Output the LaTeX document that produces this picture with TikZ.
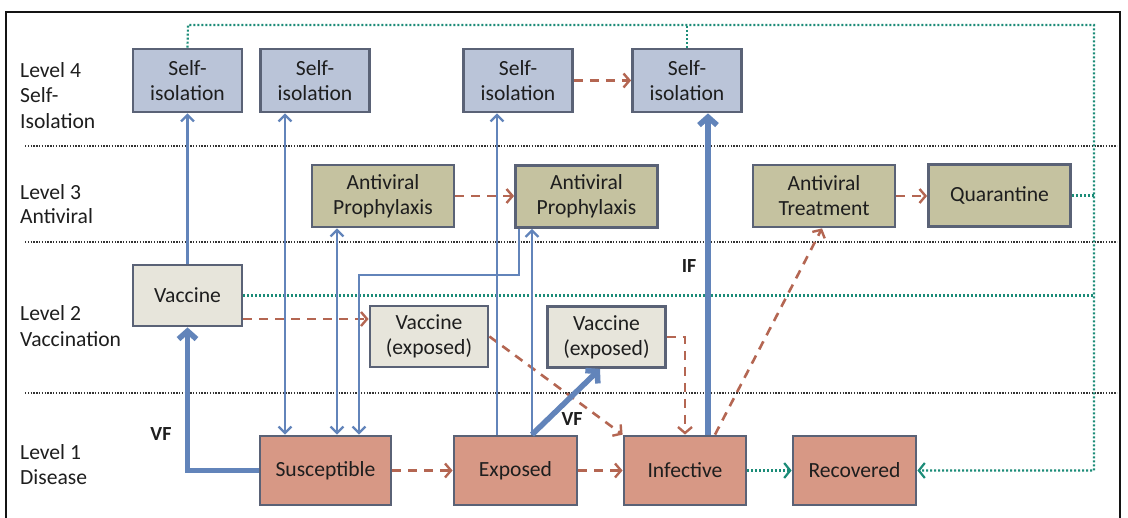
\documentclass[tikz,border=0pt]{standalone}
\usepackage{fontspec}
\setmainfont{Carlito}
\usetikzlibrary{arrows.meta}

\definecolor{frameC}{RGB}{20,20,20}
\definecolor{edgeC}{RGB}{90,98,118}
\definecolor{txtC}{RGB}{30,30,30}
\definecolor{isoF}{RGB}{186,196,216}
\definecolor{avF}{RGB}{197,194,160}
\definecolor{vacF}{RGB}{231,229,219}
\definecolor{disF}{RGB}{215,152,133}
\definecolor{flowB}{RGB}{98,132,186}
\definecolor{flowR}{RGB}{180,102,82}
\definecolor{flowT}{RGB}{28,140,120}

\tikzset{
  box/.style={draw=edgeC, line width=2.8pt, align=center, inner sep=0pt,
    text=txtC, font=\fontsize{21.6}{25}\selectfont},
  isobox/.style={box, fill=isoF, minimum width=109pt, minimum height=63pt},
  avbox/.style={box, fill=avF, minimum width=142pt, minimum height=62pt},
  vacbox/.style={box, fill=vacF, minimum width=109pt, minimum height=61pt},
  vexbox/.style={box, fill=vacF, minimum width=118pt, minimum height=61pt},
  disbox/.style={box, fill=disF, minimum height=69pt},
  lvl/.style={anchor=base west, inner sep=0pt, text=txtC, font=\fontsize{21.6}{25}\selectfont},
  flab/.style={inner sep=0pt, text=txtC, font=\fontsize{20}{24}\selectfont\bfseries},
  thinB/.style={draw=flowB, line width=2.2pt},
  thinTip/.style={thinB, -{Straight Barb[length=6.5pt,width=13pt,line width=2.2pt]}},
  thinTips/.style={thinB, {Straight Barb[length=6.5pt,width=13pt,line width=2.2pt]}-{Straight Barb[length=6.5pt,width=13pt,line width=2.2pt]}},
  thickB/.style={draw=flowB, line width=5.5pt, -{Straight Barb[length=8pt,width=18pt,line width=5.5pt]}},
  dashR/.style={draw=flowR, line width=2.6pt, dash pattern=on 9pt off 7pt,
    -{Straight Barb[length=6pt,width=14pt,line width=2.4pt]}},
  dotT/.style={draw=flowT, line width=2.2pt, dash pattern=on 2pt off 2pt},
  dotTip/.style={dotT, -{Straight Barb[length=6pt,width=15pt,line width=2.2pt]}},
  sepline/.style={draw=black!80, line width=1.3pt, dash pattern=on 1.4pt off 1.4pt},
}

\begin{document}
\begin{tikzpicture}[x=1pt,y=-1pt]
\useasboundingbox (0,0) rectangle (1128,518);
\fill[white] (0,0) rectangle (1128,518);

% outer frame
\draw[frameC, line width=2.2pt] (6,520) -- (6,12) -- (1120,12) -- (1120,520);

% level separators
\draw[sepline] (25,146) -- (1117,146);
\draw[sepline] (25,242) -- (1117,242);
\draw[sepline] (25,393) -- (1117,393);

% level labels
\node[lvl] (l4a) at (20,78) {Level 4};
\node[lvl] (l4b) at (20,103) {Self-};
\node[lvl] (l4c) at (20,129) {Isolation};
\node[lvl] (l3a) at (20,200) {Level 3};
\node[lvl] (l3b) at (20,224) {Antiviral};
\node[lvl] (l2a) at (20,321) {Level 2};
\node[lvl] (l2b) at (20,347) {Vaccination};
\node[lvl] (l1a) at (20,460) {Level 1};
\node[lvl] (l1b) at (20,485) {Disease};

% level 4: self-isolation
\node[isobox] (si1) at (187.5,80.5) {Self-\\isolation};
\node[isobox] (si2) at (315,80.5) {Self-\\isolation};
\node[isobox] (si3) at (518,80.5) {Self-\\isolation};
\node[isobox] (si4) at (687,80.5) {Self-\\isolation};

% level 3: antiviral
\node[avbox] (ap1) at (383,196) {Antiviral\\Prophylaxis};
\node[avbox] (ap2) at (586.5,196.5) {Antiviral\\Prophylaxis};
\node[avbox] (at) at (824,196) {Antiviral\\Treatment};
\node[avbox] (qu) at (999.5,195.5) {Quarantine};

% level 2: vaccination
\node[vacbox] (vac) at (187.5,295.5) {Vaccine};
\node[vexbox] (ve1) at (429,336.5) {Vaccine\\(exposed)};
\node[vexbox] (ve2) at (606.5,337) {Vaccine\\(exposed)};

% level 1: disease
\node[disbox, minimum width=131pt] (sus) at (325.5,470.5) {Susceptible};
\node[disbox, minimum width=123pt] (exp) at (515.5,470.5) {Exposed};
\node[disbox, minimum width=122pt] (inf) at (685,470.5) {Infective};
\node[disbox, minimum width=123pt] (rec) at (854.5,470.5) {Recovered};

% recovery / release paths (dotted)
\coordinate (tl) at (188,25);
\coordinate (tr) at (1094,25);
\coordinate (br) at (1094,470.5);
\draw[dotT] (vac.east) -- (vac.east -| tr);
\draw[dotT] (qu.east) -- (qu.east -| tr);
\draw[dotT] (si4.north) -- (si4.north |- tl);
\draw[dotTip] (si1.north) -- (tl) -- (tr) -- (br) -- (rec.east);
\draw[dotTip] (inf.east) -- (rec.west);

% transitions between states (dashed)
\draw[dashR] (si3.east) -- (si4.west);
\draw[dashR] (ap1.east) -- (ap2.west |- ap1.east);
\draw[dashR] (at.east) -- (qu.west |- at.east);
\draw[dashR] (vac.east |- 0,319) -- (ve1.west |- 0,319);
\draw[dashR] (ve1.east) -- (inf.north west);
\draw[dashR] (ve2.east) -- (685,337) -- (inf.north);
\draw[dashR] (inf.north -| 715,0) -- (at.south -| 822,0);
\draw[dashR] (sus.east) -- (exp.west);
\draw[dashR] (exp.east) -- (inf.west);

% interventions (solid)
\draw[thinTip] (vac.north) -- (si1.south);
\draw[thinTips] (sus.north -| 285,0) -- (si2.south -| 285,0);
\draw[thinTips] (sus.north -| 337,0) -- (ap1.south -| 337,0);
\draw[thinTip] (ap2.south -| 519,0) -- (519,275) -- (359,275) -- (sus.north -| 359,0);
\draw[thinTip] (exp.north -| 497,0) -- (si3.south -| 497,0);
\draw[thinTip] (exp.north -| 532,0) -- (ap2.south -| 532,0);

% feedback flows (heavy)
\draw[thickB] (sus.west) -| (vac.south);
\draw[thickB] (exp.north -| 532,0) -- (ve2.south -| 600,0);
\draw[thickB] (inf.north -| 708,0) -- (si4.south -| 708,0);

\node[flab] (vf1) at (161,434) {VF};
\node[flab] (vf2) at (572,419) {VF};
\node[flab] (if) at (689,266) {IF};
\end{tikzpicture}
\end{document}
